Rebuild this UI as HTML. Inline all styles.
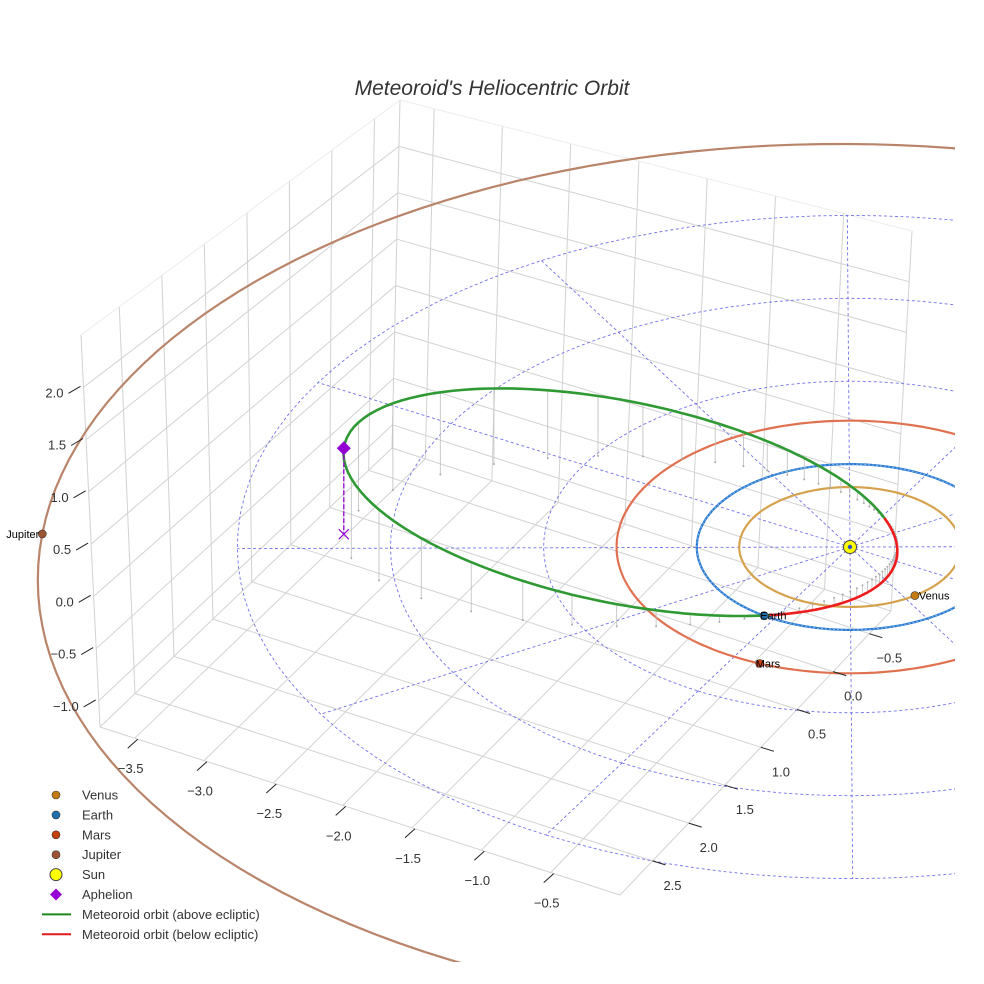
<!DOCTYPE html>
<html><head><meta charset="utf-8"><style>
html,body{margin:0;padding:0;background:#fff}
svg{display:block;font-family:"Liberation Sans",sans-serif}
</style></head><body>
<svg id="chart" width="984" height="984" viewBox="0 0 984 984" xmlns="http://www.w3.org/2000/svg">
<defs><clipPath id="clip"><rect x="0" y="0" width="955" height="962"/></clipPath></defs>
<g id="grid"></g>
<g id="plot" clip-path="url(#clip)"></g>
<g id="ticks"></g>
<text x="492" y="95" text-anchor="middle" font-size="21" font-style="italic" fill="#333">Meteoroid's Heliocentric Orbit</text>
<g id="legend"></g>
</svg>
<script>
// ---- data ----
const xTicks = [-0.5, 0.0, 0.5, 1.0, 1.5, 2.0, 2.5];
const yTicks = [-3.5, -3.0, -2.5, -2.0, -1.5, -1.0, -0.5];
const zTicks = [-1.0, -0.5, 0.0, 0.5, 1.0, 1.5, 2.0];
const xTickLabels = ["\u22120.5","0.0","0.5","1.0","1.5","2.0","2.5"];
const yTickLabels = ["\u22123.5","\u22123.0","\u22122.5","\u22122.0","\u22121.5","\u22121.0","\u22120.5"];
const zTickLabels = ["\u22121.0","\u22120.5","0.0","0.5","1.0","1.5","2.0"];
const xLim = [-0.8, 2.95], yLim = [-3.75, 0.0], zLim = [-1.25, 2.5];
const planetNames = ["Venus","Earth","Mars","Jupiter"];
const planetA = [0.723, 1.0, 1.524, 5.25];
const planetE = [0.0, 0.0, 0.0, 0.075];
const planetPeri = [0, 0, 0, 200];
const planetAngle = [65.6, -4.3, 7.0, -62.0];
const gridRadii = [1, 2, 3, 4];
const gridAngles = [0, 30, 60, 90, 120, 150, 180, 210, 240, 270, 300, 330];
// meteoroid orbital elements: semi-latus rectum p, eccentricity, inclination, arg of perihelion, node longitude
const meteorP = [0.58];
const meteorE = [0.83];
const meteorI = [16.4];
const meteorOmega = [120];
const meteorNode = [-4];

// ---- projection ----
const S = [850, 547];
const EX = [-76, 72], EY = [133, 41.1], EZ = [0, -103];
function proj(X, Y, Z) { return [S[0] + X*EX[0] + Y*EY[0] + Z*EZ[0], S[1] + X*EX[1] + Y*EY[1] + Z*EZ[1]]; }
const B=[392,448], L=[100,727], F=[620,895], R=[891,611];
const Bt=[400,100], Lt=[81,335], Rt=[912,231], Ft=[Lt[0]+Rt[0]-Bt[0], Lt[1]+Rt[1]-Bt[1]];
function bil(p00,p10,p11,p01,u,v){
  const a=[p00[0]*(1-u)+p10[0]*u, p00[1]*(1-u)+p10[1]*u];
  const b=[p01[0]*(1-u)+p11[0]*u, p01[1]*(1-u)+p11[1]*u];
  return [a[0]*(1-v)+b[0]*v, a[1]*(1-v)+b[1]*v];
}
function box(X,Y,Z){
  const u=(X-xLim[0])/(xLim[1]-xLim[0]), v=(Y-yLim[0])/(yLim[1]-yLim[0]), w=(Z-zLim[0])/(zLim[1]-zLim[0]);
  const lo=bil(B,L,F,R,u,v), hi=bil(Bt,Lt,Ft,Rt,u,v);
  return [lo[0]*(1-w)+hi[0]*w, lo[1]*(1-w)+hi[1]*w];
}
const NS="http://www.w3.org/2000/svg";
function mk(parent, tag, attrs){ const e=document.createElementNS(NS,tag); for(const k in attrs) e.setAttribute(k,attrs[k]); parent.appendChild(e); return e; }
function line(parent,a,b,stroke,w,extra){ return mk(parent,'line',Object.assign({x1:a[0].toFixed(1),y1:a[1].toFixed(1),x2:b[0].toFixed(1),y2:b[1].toFixed(1),stroke:stroke,'stroke-width':w},extra||{})); }
function pathD(pts){ return pts.map((p,i)=>(i?'L':'M')+p[0].toFixed(1)+' '+p[1].toFixed(1)).join(''); }

// ---- box grid ----
const grid=document.getElementById('grid');
const gc="#d2d2d2";
xTicks.forEach(x=>{
  let e=line(grid,box(x,yLim[0],zLim[0]),box(x,yLim[0],zLim[1]),gc,1);
   
  e=line(grid,box(x,yLim[0],zLim[0]),box(x,yLim[1],zLim[0]),gc,1);
   
});
yTicks.forEach(y=>{
  let e=line(grid,box(xLim[0],y,zLim[0]),box(xLim[0],y,zLim[1]),gc,1);
   
  e=line(grid,box(xLim[0],y,zLim[0]),box(xLim[1],y,zLim[0]),gc,1);
   
});
zTicks.forEach(z=>{
  let e=line(grid,box(xLim[0],yLim[0],z),box(xLim[1],yLim[0],z),gc,1);
   
  e=line(grid,box(xLim[0],yLim[0],z),box(xLim[0],yLim[1],z),gc,1);
   
});
[[[xLim[0],yLim[0],zLim[0]],[xLim[1],yLim[0],zLim[0]]],[[xLim[0],yLim[0],zLim[0]],[xLim[0],yLim[1],zLim[0]]],
 [[xLim[1],yLim[0],zLim[0]],[xLim[1],yLim[1],zLim[0]]],[[xLim[0],yLim[1],zLim[0]],[xLim[1],yLim[1],zLim[0]]],
 [[xLim[0],yLim[0],zLim[0]],[xLim[0],yLim[0],zLim[1]]],[[xLim[1],yLim[0],zLim[0]],[xLim[1],yLim[0],zLim[1]]],
 [[xLim[0],yLim[1],zLim[0]],[xLim[0],yLim[1],zLim[1]]]].forEach(s=>{
  const e=line(grid,box(...s[0]),box(...s[1]),gc,1);
   
});
[[[xLim[0],yLim[0],zLim[1]],[xLim[1],yLim[0],zLim[1]]],[[xLim[0],yLim[0],zLim[1]],[xLim[0],yLim[1],zLim[1]]]].forEach(s=>{
  const e=line(grid,box(...s[0]),box(...s[1]),"#ececec",1);
   
});

// ---- ticks & labels ----
const tk=document.getElementById('ticks');
xTicks.forEach((x,i)=>{
  const p=box(x,yLim[1],zLim[0]);
  let e=line(tk,p,[p[0]+13,p[1]+4],"#222",1);
   
  e=mk(tk,'text',{x:(p[0]+20).toFixed(1),y:(p[1]+29).toFixed(1),'text-anchor':'middle','font-size':13,fill:'#333'});
  e.textContent=xTickLabels[i];
   
});
yTicks.forEach((y,i)=>{
  const p=box(xLim[1],y,zLim[0]);
  let e=line(tk,[p[0]+3,p[1]+1],[p[0]-7,p[1]+10],"#222",1);
   
  e=mk(tk,'text',{x:(p[0]-4).toFixed(1),y:(p[1]+35).toFixed(1),'text-anchor':'middle','font-size':13,fill:'#333'});
  e.textContent=yTickLabels[i];
   
});
zTicks.forEach((z,i)=>{
  const p=box(xLim[1],yLim[0],z);
  let e=line(tk,[p[0]-3,p[1]-1],[p[0]-15,p[1]+6],"#222",1);
   
  e=mk(tk,'text',{x:(p[0]-20).toFixed(1),y:(p[1]+10).toFixed(1),'text-anchor':'end','font-size':13,fill:'#333'});
  e.textContent=zTickLabels[i];
   
});

// ---- plot ----
const plot=document.getElementById('plot');
const dashC="#5a5ae6";
gridRadii.forEach(r=>{
  const pts=[]; for(let t=0;t<=360;t+=3){const a=t*Math.PI/180; pts.push(proj(r*Math.cos(a),r*Math.sin(a),0));}
  const e=mk(plot,'path',{d:pathD(pts),fill:'none',stroke:dashC,'stroke-width':0.9,'stroke-dasharray':'3 2.5',opacity:0.85});
   
});
const rMax=gridRadii[gridRadii.length-1];
gridAngles.forEach(t=>{
  const a=t*Math.PI/180;
  const e=line(plot,proj(0,0,0),proj(rMax*Math.cos(a),rMax*Math.sin(a),0),dashC,0.9,{'stroke-dasharray':'3 2.5',opacity:0.85});
   
});
const orbitColors=["#d6a24e","#2a78d0","#e07252","#b98469"];
const planetColors=["#c47c12","#1f6fae","#c4400c","#9c5433"];
function planetR(i,deg){ const a=planetA[i], e=planetE[i]; return a*(1-e*e)/(1+e*Math.cos((deg-planetPeri[i])*Math.PI/180)); }
planetNames.forEach((n,i)=>{
  const pts=[]; for(let t=0;t<=360;t+=2){const a=t*Math.PI/180, r=planetR(i,t); pts.push(proj(r*Math.cos(a),r*Math.sin(a),0));}
  const e=mk(plot,'path',{d:pathD(pts),fill:'none',stroke:orbitColors[i],'stroke-width':2.2});
   
});
(function(){const pts=[]; for(let t=0;t<=360;t+=2){const a=t*Math.PI/180; pts.push(proj(Math.cos(a),Math.sin(a),0));}
 const e=mk(plot,'path',{d:pathD(pts),fill:'none',stroke:'#7ab8ea','stroke-width':1,'stroke-dasharray':'2 2'});
  })();

// meteoroid orbit
function meteor(nuDeg){
  const p=meteorP[0], ec=meteorE[0], inc=meteorI[0]*Math.PI/180, om=meteorOmega[0], Om=meteorNode[0]*Math.PI/180;
  const r=p/(1+ec*Math.cos(nuDeg*Math.PI/180));
  const th=(nuDeg+om)*Math.PI/180;
  const u=r*Math.cos(th), w=r*Math.sin(th);
  const Xp=u, Yp=w*Math.cos(inc), Z=-w*Math.sin(inc);
  return [Xp*Math.cos(Om)-Yp*Math.sin(Om), Xp*Math.sin(Om)+Yp*Math.cos(Om), Z];
}
for(let nu=-180; nu<180; nu+=5){
  const m=meteor(nu); const a=proj(m[0],m[1],m[2]), b=proj(m[0],m[1],0);
  const e=line(plot,a,b,"#bdbdbd",0.8);
   
  const d=mk(plot,'circle',{cx:b[0].toFixed(1),cy:b[1].toFixed(1),r:1,fill:'#aaa'});
   
}
let seg=[], segUp=null;
function flush(){ if(seg.length>1){ const e=mk(plot,'path',{d:pathD(seg),fill:'none',stroke:segUp?'#2f9a33':'#ee1c1c','stroke-width':2.6});
    } }
for(let nu=-180; nu<=180; nu+=1){
  const m=meteor(nu); const up=m[2]>=0; const p=proj(m[0],m[1],m[2]);
  if(segUp===null) segUp=up;
  if(up!==segUp){ seg.push(p); flush(); seg=[p]; segUp=up; } else seg.push(p);
}
flush();
const aph=meteor(180); const ap=proj(aph[0],aph[1],aph[2]), apb=proj(aph[0],aph[1],0);
let el=line(plot,ap,apb,"#9400d3",1.3,{'stroke-dasharray':'5 2'});
 
el=mk(plot,'path',{d:`M${apb[0]-5} ${apb[1]-5}L${apb[0]+5} ${apb[1]+5}M${apb[0]-5} ${apb[1]+5}L${apb[0]+5} ${apb[1]-5}`,stroke:'#9400d3','stroke-width':1.2,fill:'none'});
 
el=mk(plot,'polygon',{points:`${ap[0]},${ap[1]-7} ${ap[0]+7},${ap[1]} ${ap[0]},${ap[1]+7} ${ap[0]-7},${ap[1]}`,fill:'#9400d3'});
 
const sp=proj(0,0,0);
el=mk(plot,'circle',{cx:sp[0],cy:sp[1],r:6.5,fill:'#ffff00',stroke:'#444','stroke-width':1});
 
el=mk(plot,'circle',{cx:sp[0],cy:sp[1],r:2.2,fill:'#3050c0'});
 
planetNames.forEach((n,i)=>{
  const a=planetAngle[i]*Math.PI/180, r=planetR(i,planetAngle[i]);
  const p=proj(r*Math.cos(a),r*Math.sin(a),0);
  let e=mk(plot,'circle',{cx:p[0].toFixed(1),cy:p[1].toFixed(1),r:4,fill:planetColors[i],stroke:'#333','stroke-width':0.6});
   
  const t=mk(plot,'text',{x:(i===3?p[0]-3:(i===0?p[0]+4:p[0]-4)).toFixed(1),y:(p[1]+4).toFixed(1),'font-size':11,fill:'#000','text-anchor':i===3?'end':'start'});
  t.textContent=n;
   
});

// ---- legend ----
const lg=document.getElementById('legend');
const legendLabels=["Venus","Earth","Mars","Jupiter","Sun","Aphelion","Meteoroid orbit (above ecliptic)","Meteoroid orbit (below ecliptic)"];
legendLabels.forEach((lab,i)=>{
  const y=795+i*19.9, cx=56;
  let m;
  if(i<4){ m=mk(lg,'circle',{cx:cx,cy:y,r:4,fill:planetColors[i],stroke:'#333','stroke-width':0.6}); }
  else if(i===4){ m=mk(lg,'circle',{cx:cx,cy:y,r:6,fill:'#ffff00',stroke:'#444','stroke-width':1}); }
  else if(i===5){ m=mk(lg,'polygon',{points:`${cx},${y-6} ${cx+6},${y} ${cx},${y+6} ${cx-6},${y}`,fill:'#9400d3'}); }
  else { m=mk(lg,'line',{x1:42,y1:y,x2:71,y2:y,stroke:i===6?'#1a8a1a':'#e01818','stroke-width':2}); }
   
  const t=mk(lg,'text',{x:82,y:y+4.5,'font-size':13,fill:'#333'});
  t.textContent=lab;
   
});
</script>
</body></html>
